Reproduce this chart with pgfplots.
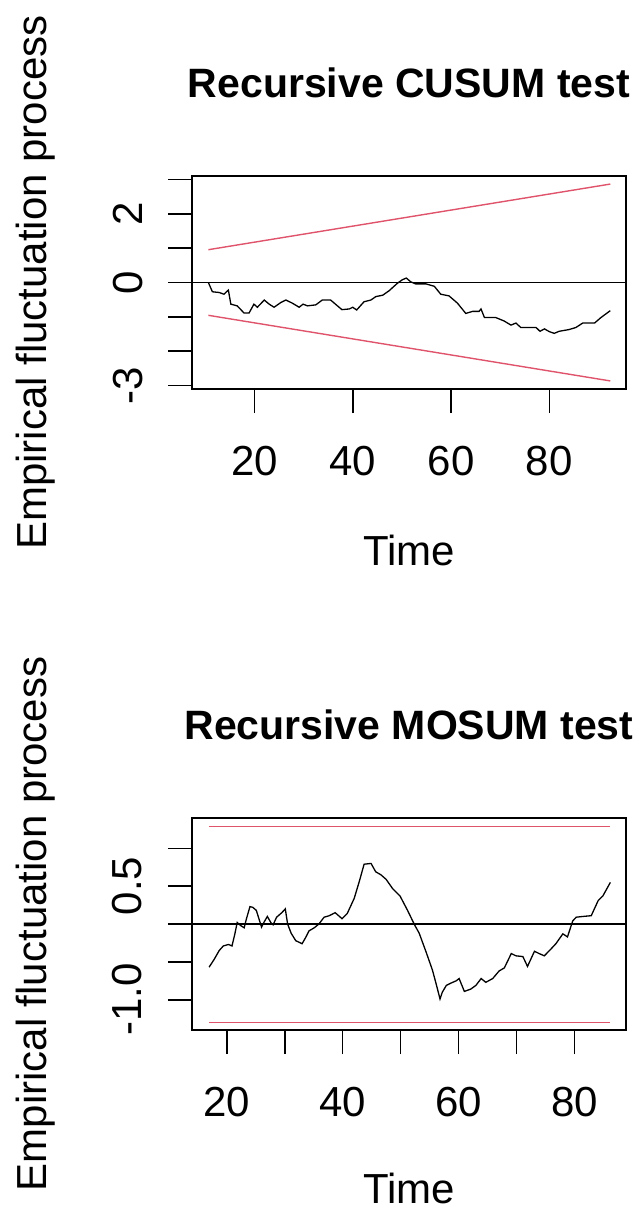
\documentclass[border=0pt]{standalone}
\usepackage{pgfplots}
\pgfplotsset{compat=1.18}
\usepackage{fontspec}
\setmainfont{Liberation Sans}
\definecolor{rred}{HTML}{DF536B}
\newcommand{\lab}{\fontsize{42bp}{50bp}\selectfont}
\newcommand{\ttl}{\fontsize{41bp}{49bp}\selectfont\bfseries}
\pgfplotsset{
  rstyle/.style={
    scale only axis,
    width=434bp,
    axis line style={line width=1.6bp},
    tick style={line width=1.6bp, black},
    tick align=outside,
    major tick length=24bp,
    xtick pos=bottom,
    ytick pos=left,
    minor tick num=0,
    every axis title/.style={at={(axis description cs:0.5,1)}, anchor=base, yshift=79bp, inner sep=1bp, font=\ttl},
    every axis x label/.style={at={(axis description cs:0.5,0)}, anchor=base, yshift=-176bp, inner sep=0bp, font=\lab},
    every axis y label/.style={at={(axis description cs:0,0.5)}, xshift=-145bp, rotate=90, anchor=base, inner sep=1bp, font=\lab},
    xticklabel style={anchor=base, yshift=-62bp, font=\lab},
    yticklabel style={xshift=-26bp, rotate=90, anchor=base, font=\lab},
    xlabel={Time},
    ylabel={Empirical fluctuation process},
  }
}
\begin{document}
\begin{tikzpicture}
\useasboundingbox (0,0) rectangle (642bp,-1213bp);
\begin{axis}[rstyle,
  at={(192bp,-389bp)}, anchor=south west,
  height=213bp,
  xmin=7.3, xmax=95.6, ymin=-3.10, ymax=3.10,
  xtick={20,40,60,80}, xticklabels={20,40,60,80},
  ytick={-3,-2,-1,0,1,2,3}, yticklabels={-3,,,0,,2,},
  title={Recursive CUSUM test}]
\addplot[black, line width=1.2bp] coordinates {(7.3,0) (95.6,0)};
\addplot[rred, line width=1.4bp] coordinates {(10.63,0.955) (92.4,2.865)};
\addplot[rred, line width=1.4bp] coordinates {(10.63,-0.955) (92.4,-2.865)};
\addplot[black, line width=1.3bp] coordinates {
(10.63,0) (11.45,-0.27) (12.8,-0.29) (13.8,-0.34) (14.7,-0.22) (15.2,-0.63)
(16.5,-0.68) (17.9,-0.89) (18.9,-0.89) (19.9,-0.63) (20.6,-0.72) (22.0,-0.51)
(23.0,-0.63) (24.0,-0.72) (25.4,-0.58) (26.4,-0.51) (27.7,-0.60) (29.1,-0.72)
(29.9,-0.63) (30.8,-0.68) (32.5,-0.65) (33.8,-0.51) (35.5,-0.51) (37.8,-0.79)
(39.3,-0.77) (40.0,-0.72) (40.8,-0.80) (42.3,-0.56) (43.7,-0.51) (44.7,-0.41)
(46.1,-0.37) (47.4,-0.24) (49.1,-0.02) (50.1,0.08) (50.9,0.13) (51.8,0.02)
(52.8,-0.04) (54.9,-0.04) (56.6,-0.11) (57.9,-0.34) (59.6,-0.39) (61.3,-0.60)
(63.0,-0.90) (64.4,-0.84) (65.7,-0.84) (66.1,-0.77) (66.8,-1.02) (69.1,-1.02)
(70.8,-1.12) (72.2,-1.24) (73.2,-1.18) (74.2,-1.31) (77.3,-1.31) (78.1,-1.42)
(79.0,-1.35) (80.0,-1.43) (81.0,-1.48) (82.0,-1.42) (84.0,-1.37) (85.4,-1.31)
(86.8,-1.18) (89.2,-1.18) (90.5,-1.02) (92.4,-0.82)};
\end{axis}
\begin{axis}[rstyle,
  at={(192bp,-1030bp)}, anchor=south west,
  height=212bp,
  xmin=14.0, xmax=88.9, ymin=-1.40, ymax=1.40,
  xtick={20,30,40,50,60,70,80}, xticklabels={20,,40,,60,,80},
  ytick={-1,-0.5,0,0.5,1}, yticklabels={-1.0,,,0.5,},
  title={Recursive MOSUM test},
  every axis x label/.append style={yshift=3bp}]
\addplot[black, line width=1.2bp] coordinates {(14.0,0) (88.9,0)};
\addplot[rred, line width=1.4bp] coordinates {(16.95,1.29) (86.2,1.29)};
\addplot[rred, line width=1.4bp] coordinates {(16.95,-1.30) (86.2,-1.30)};
\addplot[black, line width=1.3bp] coordinates {
(16.95,-0.57) (17.8,-0.47) (18.7,-0.35) (19.4,-0.29) (20.3,-0.27) (20.9,-0.29)
(21.4,-0.13) (21.8,0.02) (22.4,-0.02) (23.0,-0.05) (23.4,0.07) (24.0,0.23)
(24.5,0.22) (25.1,0.18) (26.0,-0.04) (26.4,0.02) (27.0,0.10) (27.6,0.02)
(28.0,-0.01) (28.6,0.09) (29.5,0.15) (30.1,0.20) (30.5,0.00) (31.1,-0.12)
(31.9,-0.22) (33.0,-0.26) (33.6,-0.18) (34.2,-0.09) (35.1,-0.05) (35.9,0.00)
(36.8,0.09) (37.7,0.11) (38.7,0.15) (39.9,0.07) (40.8,0.14) (42.0,0.34)
(42.9,0.57) (43.7,0.79) (44.9,0.80) (45.7,0.69) (46.6,0.65) (47.5,0.59)
(48.6,0.47) (49.9,0.37) (51.2,0.18) (52.4,-0.01) (53.2,-0.12) (54.4,-0.37)
(55.5,-0.61) (56.2,-0.81) (56.8,-0.99) (57.2,-0.90) (57.9,-0.81) (58.7,-0.78)
(59.6,-0.75) (60.1,-0.72) (61.0,-0.89) (62.1,-0.86) (63.0,-0.81) (63.9,-0.72)
(64.7,-0.77) (65.9,-0.72) (67.0,-0.62) (67.9,-0.58) (69.1,-0.39) (69.9,-0.42)
(71.1,-0.43) (71.9,-0.56) (73.1,-0.36) (73.9,-0.39) (74.8,-0.42) (75.7,-0.35)
(76.8,-0.26) (78.0,-0.13) (78.8,-0.17) (79.7,0.04) (80.3,0.09) (81.5,0.10)
(82.9,0.11) (84.1,0.31) (84.9,0.37) (86.2,0.55)};
\end{axis}
\end{tikzpicture}
\end{document}
